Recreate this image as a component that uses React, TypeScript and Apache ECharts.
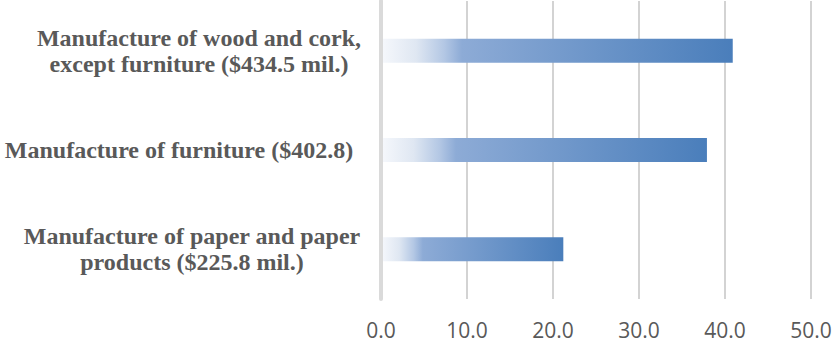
import React, { useEffect, useRef } from "react";
import * as echarts from "echarts";

// Share of the wood/paper/furniture group, in percent
const categories = [
  "Manufacture of wood and cork,\nexcept furniture ($434.5 mil.)",
  "Manufacture of furniture ($402.8)",
  "Manufacture of paper and paper\nproducts ($225.8 mil.)",
];
const shares = [40.9, 37.9, 21.2];
const axisMin = 0;
const axisMax = 50;
const axisStep = 10;

// Horizontal nudge for each wrapped label block (left padding, px)
const labelNudge = [40, 0, 26];

const categoryLabelStyle = {
  color: "#595959",
  fontFamily: "Liberation Serif",
  fontWeight: "bold" as const,
  fontSize: 24,
  lineHeight: 26,
  align: "center" as const,
};

const barGradient = new echarts.graphic.LinearGradient(0, 0, 1, 0, [
  { offset: 0, color: "#f6f8fc" },
  { offset: 0.1, color: "#dfe7f2" },
  { offset: 0.18, color: "#b3c7e4" },
  { offset: 0.23, color: "#8dabd6" },
  { offset: 1, color: "#4a7ebb" },
]);

export default function App() {
  const ref = useRef<HTMLDivElement>(null);

  useEffect(() => {
    if (!ref.current) return;
    const chart = echarts.init(ref.current, undefined, { renderer: "svg" });
    chart.setOption({
      animation: false,
      backgroundColor: "#ffffff",
      grid: {
        left: 381,
        right: 22,
        top: 1,
        bottom: 44,
        containLabel: false,
        outerBoundsMode: "none",
      },
      xAxis: {
        type: "value",
        min: axisMin,
        max: axisMax,
        interval: axisStep,
        axisLine: { show: false },
        axisTick: { show: false },
        axisLabel: {
          color: "#595959",
          fontFamily: "Open Sans",
          fontSize: 21,
          margin: 20,
          formatter: (v: number) => v.toFixed(1),
        },
        splitLine: { show: true, lineStyle: { color: "#d3d3d3", width: 2 } },
      },
      yAxis: {
        type: "category",
        inverse: true,
        z: 5,
        data: categories.map((c, i) => ({
          value: c,
          textStyle: { ...categoryLabelStyle, padding: [0, 0, 5, labelNudge[i]] },
        })),
        axisLine: { show: true, lineStyle: { color: "#dadada", width: 4 } },
        axisTick: { show: false },
        axisLabel: { ...categoryLabelStyle, margin: 202 },
      },
      series: [
        {
          type: "bar",
          data: shares,
          barWidth: 24,
          itemStyle: { color: barGradient },
        },
      ],
    });
    return () => chart.dispose();
  }, []);

  return (
    <div
      ref={ref}
      style={{ position: "absolute", left: 0, top: 0, width: 833, height: 343 }}
    />
  );
}
